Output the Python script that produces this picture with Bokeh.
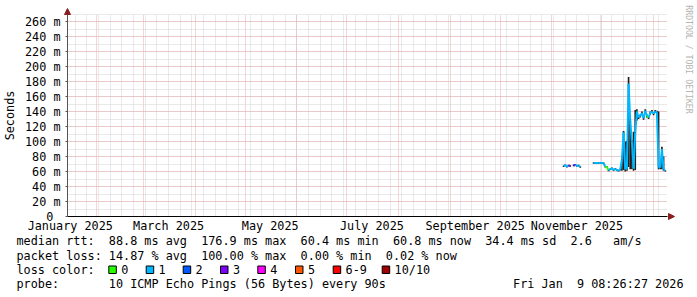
import math
import pandas as pd
from bokeh.plotting import figure
from bokeh.models import (FixedTicker, CustomJSTickFormatter, DatetimeTickFormatter, Label,
                          BoxAnnotation, Arrow, NormalHead, ColumnDataSource, Range1d)
from bokeh.embed import file_html
from bokeh.resources import INLINE

# ---------------- data ----------------
graph_start = pd.Timestamp("2025-01-14 08:26:27")
graph_end = pd.Timestamp("2026-01-09 08:26:27")

nan = float("nan")
dates = pd.date_range("2025-11-08", "2026-01-08", freq="D")

# median round trip time (ms)
median_ms = [67, 68.5, 66.5, 68, 67.5, nan, 68, 69, 67.5, 68, 66,
             nan, nan, nan, nan, nan, nan, nan,
             71.5, 71.5, 71.5, 71.5, 71.5, 71.5, 71, 66.5, 66, 61.5, 63, 64.5, 62, 63.5, 62, 61, 62.5,
             76, 112, 63, 64, 177, 127, 100, 64, 112,
             140, 132, 134, 138, 131, 141, 134, 132, 138, 140, 137, 140, 139,
             66, 65, 90, 63, 60.8]
# smoke: spread of the pings (ms)
smoke_lo = [66, 67.5, 65.5, 67, 66.5, nan, 67, 68, 66.5, 67, 65,
            nan, nan, nan, nan, nan, nan, nan,
            70.5, 70.5, 70.5, 70.5, 70.5, 70.5, 70, 65.5, 65, 60.5, 62, 63.5, 61, 62.5, 61, 60, 61.5,
            61, 62, 60, 61, 66, 63, 63, 61, 62,
            128, 130, 132, 135, 129, 138, 132, 130, 136, 138, 135, 138, 137,
            63, 63, 63, 61, 60]
smoke_hi = [68, 69.5, 67.5, 69, 68.5, nan, 69, 70, 68.5, 69, 67,
            nan, nan, nan, nan, nan, nan, nan,
            72.5, 72.5, 72.5, 72.5, 72.5, 72.5, 72, 67.5, 67, 62.5, 64, 65.5, 63, 64.5, 63, 62, 63.5,
            81, 114, 100, 101, 186, 130, 102, 113, 142,
            143, 134, 136, 140, 133, 143, 136, 134, 140, 142, 139, 142, 141,
            140, 67, 93, 80, 62]
# lost pings out of 10 for each sample
loss = [1, 1, 1, 1, 3, 1, 1, 3, 1, 1, 1,
        1, 1, 1, 1, 1, 1, 1,
        1, 1, 1, 1, 1, 1, 1, 1, 0, 0, 1, 1, 1, 1, 1, 1, 1,
        1, 1, 1, 1, 1, 1, 1, 1, 1,
        1, 1, 1, 1, 1, 1, 1, 0, 1, 1, 1, 1, 1,
        1, 1, 1, 1, 1]

loss_labels = ["0", "1", "2", "3", "4", "5", "6-9", "10/10"]
loss_palette = ["#26ff00", "#00b8ff", "#0059ff", "#7e00ff", "#ff00ff", "#ff5500", "#ff0000", "#a10000"]

y_ticks = list(range(0, 261, 20))
y_minor = list(range(0, 271, 10))
y_top = 269.5

stats_line = "median rtt:  88.8 ms avg  176.9 ms max  60.4 ms min  60.8 ms now  34.4 ms sd  2.6   am/s"
loss_line = "packet loss: 14.87 % avg  100.00 % max  0.00 % min  0.02 % now"
probe_line = "probe:       10 ICMP Echo Pings (56 Bytes) every 90s"
stamp = "Fri Jan  9 08:26:27 2026"


def level_color(n):
    if n <= 5:
        return loss_palette[n]
    if n < 10:
        return loss_palette[6]
    return loss_palette[7]


def ms(ts):
    return ts.value / 1e6


def keep_spaces(s):
    # SVG collapses runs of ordinary spaces; keep the monospace layout
    return s.replace(" ", "\u00a0")


FONT = "DejaVu Sans Mono"
FS = "11.8px"
DAY = pd.Timedelta(days=1)
PX = 0.6 * DAY          # 360 days over 600 px
W, H = 697, 297
AXIS_X, AXIS_Y = 67, 216  # canvas position of the axes' origin
YPX = 0.75                # px per ms

# The frame covers the whole canvas; axes are pinned at the origin.
p = figure(width=W, height=H, x_axis_type="datetime",
           x_range=Range1d(graph_start - AXIS_X * PX, graph_start + (W - AXIS_X) * PX),
           y_range=Range1d(-(H - AXIS_Y) / YPX, AXIS_Y / YPX),
           output_backend="svg", toolbar_location=None,
           min_border_left=0, min_border_right=0, min_border_top=0, min_border_bottom=0)
p.outline_line_color = None
p.background_fill_color = "white"
p.border_fill_color = "white"

x_bounds = (ms(graph_start), ms(graph_end))

# grids
month_starts = [ms(t) for t in pd.date_range("2025-02-01", "2026-01-01", freq="MS")]
sundays = [ms(t) for t in pd.date_range(graph_start, graph_end, freq="W-SUN").normalize()]
p.xgrid.ticker = FixedTicker(ticks=month_starts, minor_ticks=sundays)
p.xgrid.bounds = x_bounds
p.xgrid.cross_bounds = (0, y_top)
p.ygrid.bounds = (0, y_top)
p.ygrid.cross_bounds = x_bounds
for g in (p.xgrid, p.ygrid):
    g.grid_line_color = "#eba9a9"
    g.grid_line_dash = "1 1"
    g.grid_line_width = 1
    g.minor_grid_line_color = "#d2d2d2"
    g.minor_grid_line_dash = "1 1"

# y axis
p.yaxis.fixed_location = ms(graph_start)
p.yaxis.bounds = (0, y_top)
p.yaxis.ticker = FixedTicker(ticks=y_ticks, minor_ticks=y_minor)
p.yaxis.formatter = CustomJSTickFormatter(code="return tick == 0 ? '0\\u00a0' : tick + ' m';")
p.yaxis.axis_label = "Seconds"
p.yaxis.axis_label_text_font = FONT
p.yaxis.axis_label_text_font_size = FS
p.yaxis.axis_label_text_font_style = "normal"
p.yaxis.axis_label_text_color = "black"
p.yaxis.axis_label_standoff = 5
p.yaxis.major_label_text_font = FONT
p.yaxis.major_label_text_font_size = FS
p.yaxis.major_label_text_color = "black"
p.yaxis.major_label_standoff = 5
p.yaxis.major_tick_out = 2
p.yaxis.major_tick_in = 0
p.yaxis.minor_tick_out = 0
p.yaxis.minor_tick_in = 0
p.yaxis.axis_line_color = "#555555"
p.yaxis.major_tick_line_color = "#555555"

# x axis: month labels centred half a month after the month start
label_ticks = [ms(t + 15 * DAY) for t in pd.date_range("2025-01-01", "2025-11-01", freq="2MS")]
p.xaxis.fixed_location = 0
p.xaxis.bounds = x_bounds
p.xaxis.ticker = FixedTicker(ticks=label_ticks, minor_ticks=[])
fmt = "%B %Y"
p.xaxis.formatter = DatetimeTickFormatter(milliseconds=fmt, seconds=fmt, minsec=fmt, minutes=fmt,
                                          hourmin=fmt, hours=fmt, days=fmt, months=fmt, years=fmt)
p.xaxis.major_label_text_font = FONT
p.xaxis.major_label_text_font_size = FS
p.xaxis.major_label_text_color = "black"
p.xaxis.major_tick_line_color = None
p.xaxis.minor_tick_line_color = None
p.xaxis.major_tick_out = 0
p.xaxis.major_tick_in = 0
p.xaxis.major_label_standoff = 2
p.xaxis.axis_line_color = "#000000"

# smoke
smoke = ColumnDataSource(dict(x=dates, lo=smoke_lo, hi=smoke_hi))
p.vbar(x="x", top="hi", bottom="lo", width=DAY, source=smoke,
       fill_color="#1e1e1e", line_color=None)

# median line coloured by loss
x0, y0, x1, y1, cols = [], [], [], [], []
for i in range(len(dates) - 1):
    a, b = median_ms[i], median_ms[i + 1]
    if math.isnan(a) or math.isnan(b):
        continue
    x0.append(dates[i]); y0.append(a); x1.append(dates[i + 1]); y1.append(b)
    cols.append(level_color(loss[i + 1]))
seg = ColumnDataSource(dict(x0=x0, y0=y0, x1=x1, y1=y1, c=cols))
p.segment(x0="x0", y0="y0", x1="x1", y1="y1", color="c", line_width=2, source=seg)


# ---------------- annotations (screen px, origin bottom-left of canvas) ----------------
def sy(canvas_y):
    return H - canvas_y


ARROW = "#8b1e1e"
p.add_layout(Arrow(end=NormalHead(size=6, fill_color=ARROW, line_color=ARROW, line_width=1),
                   x_start=AXIS_X, y_start=sy(20), x_end=AXIS_X, y_end=sy(8),
                   start_units="screen", end_units="screen", line_alpha=0))
p.add_layout(Arrow(end=NormalHead(size=6, fill_color=ARROW, line_color=ARROW, line_width=1),
                   x_start=660, y_start=sy(AXIS_Y), x_end=674, y_end=sy(AXIS_Y),
                   start_units="screen", end_units="screen", line_alpha=0))

p.add_layout(Label(x=688, y=sy(59), x_units="screen", y_units="screen",
                   angle=-math.pi / 2, text="RRDTOOL / TOBI OETIKER", text_font=FONT,
                   text_font_size="8.2px", text_color="#b4b4b4",
                   text_align="center", text_baseline="middle"))


def add_text(txt, x, y, align="left"):
    p.add_layout(Label(x=x, y=sy(y), x_units="screen", y_units="screen", text=keep_spaces(txt),
                       text_font=FONT, text_font_size=FS, text_color="black",
                       text_align=align, text_baseline="middle"))


add_text(stats_line, 16, 240.7)
add_text(loss_line, 16, 255)
add_text("loss color:", 16, 269.3)
add_text(probe_line, 16, 283.3)
add_text(stamp, 683, 283.3, align="right")

box_lefts = [108.3, 145.7, 182.7, 220, 257.3, 295, 332.7, 381.7]
for lab, col, bl in zip(loss_labels, loss_palette, box_lefts):
    p.add_layout(BoxAnnotation(left=bl, right=bl + 7.5, top=sy(265.5), bottom=sy(273),
                               left_units="screen", right_units="screen",
                               top_units="screen", bottom_units="screen",
                               fill_color=col, fill_alpha=1, line_color="black",
                               line_width=1, line_alpha=1))
    add_text(lab, bl + 12.4, 269.3)

open("out.html", "w").write(file_html(p, INLINE))
